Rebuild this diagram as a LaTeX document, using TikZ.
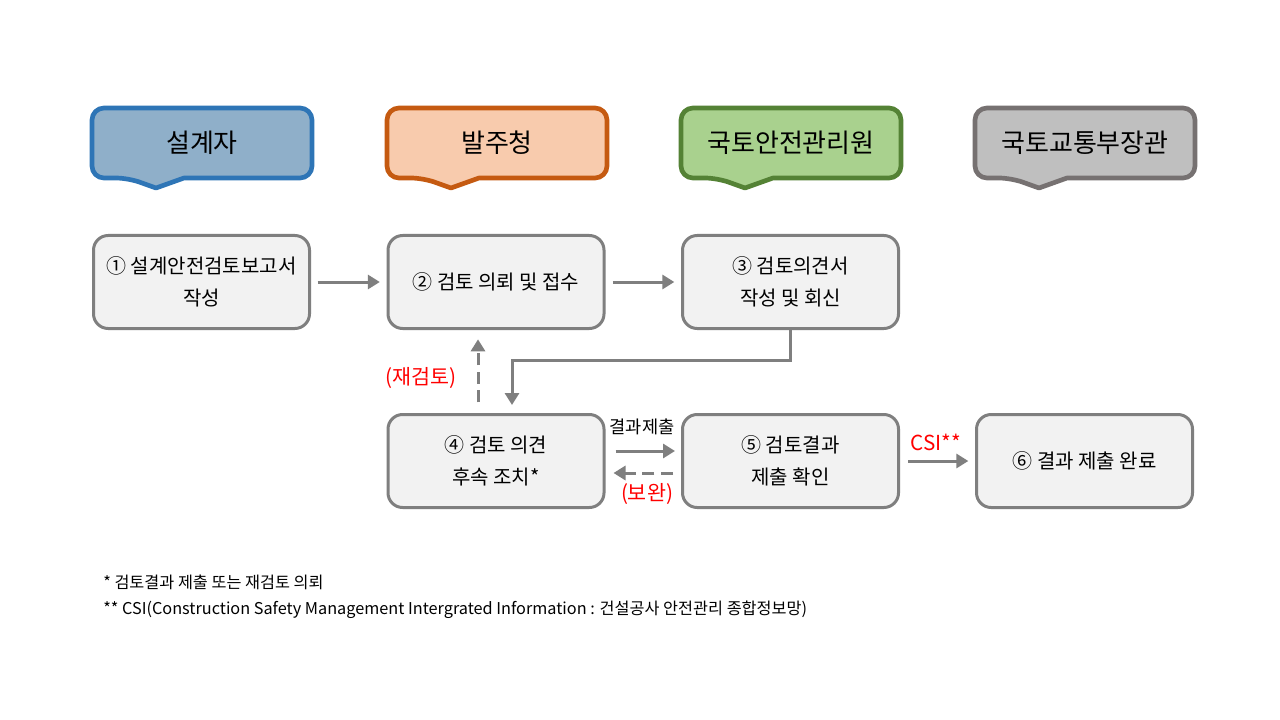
\documentclass[tikz,border=0pt]{standalone}
\usepackage{fontspec}
\setmainfont{Noto Sans CJK KR}
\usetikzlibrary{arrows.meta,calc}
\definecolor{bordgray}{HTML}{7F7F7F}
\definecolor{boxfill}{HTML}{F2F2F2}
\definecolor{blueB}{HTML}{2E75B6}
\definecolor{blueF}{HTML}{8FAFC9}
\definecolor{orgB}{HTML}{C55A11}
\definecolor{orgF}{HTML}{F8CBAD}
\definecolor{grnB}{HTML}{548235}
\definecolor{grnF}{HTML}{A9D18E}
\definecolor{gryB}{HTML}{767171}
\definecolor{gryF}{HTML}{BFBFBF}
\definecolor{redT}{HTML}{FF0000}
\newcommand\hdrshape[3]{%
  \draw[draw=#2,fill=#3,line width=3.5pt,line join=round]
    (#1+36,178) -- (#1+64,188) -- (#1+92,178) [rounded corners=9pt]
    -- (#1+220,178) -- (#1+220,108) -- (#1,108) -- (#1,178) -- cycle;}
\begin{document}
\begin{tikzpicture}[x=0.75pt,y=-0.75pt,
  hdrtext/.style={font=\fontsize{19.5}{22}\selectfont,text=black},
  pbox/.style={draw=bordgray,fill=boxfill,line width=2.25pt,rounded corners=11pt,
    minimum width=162pt,minimum height=69.75pt,inner sep=0pt,align=center,
    font=\fontsize{15}{24}\selectfont},
  arr/.style={draw=bordgray,line width=2.25pt,-{Triangle[length=9pt,width=10.5pt]}},
  darr/.style={arr,dash pattern=on 9pt off 5pt},
  redlab/.style={text=redT,font=\fontsize{15.5}{18}\selectfont},
  smalllab/.style={font=\fontsize{13.2}{15}\selectfont},
  foot/.style={anchor=west,font=\fontsize{12.2}{14}\selectfont,inner sep=0pt}]
\useasboundingbox (0,0) rectangle (1280,720);
\fill[white] (0,0) rectangle (1280,720);
% headers
\hdrshape{92}{blueB}{blueF}
\hdrshape{387}{orgB}{orgF}
\hdrshape{681}{grnB}{grnF}
\hdrshape{975}{gryB}{gryF}
\node[hdrtext] (h1) at (202,143) {설계자};
\node[hdrtext] (h2) at (497,143) {발주청};
\node[hdrtext] (h3) at (791,143) {국토안전관리원};
\node[hdrtext] (h4) at (1085,143) {국토교통부장관};
% process boxes
\node[pbox] (b1) at (201.5,282) {① 설계안전검토보고서\\작성};
\node[pbox] (b2) at (496,282) {② 검토 의뢰 및 접수};
\node[pbox] (b3) at (790.5,282) {③ 검토의견서\\작성 및 회신};
\node[pbox] (b4) at (496,461) {④ 검토 의견\\후속 조치*};
\node[pbox] (b5) at (790.5,461) {⑤ 검토결과\\제출 확인};
\node[pbox] (b6) at (1084.5,461) {⑥ 결과 제출 완료};
% connectors
\draw[arr,shorten <=5pt,shorten >=5pt] (b1.east) -- (b2.west);
\draw[arr,shorten <=5.5pt,shorten >=5pt] (b2.east) -- (b3.west);
\coordinate (k) at (512,360);
\draw[arr,shorten >=6pt] (b3.south) |- (k) -- (k |- b4.north);
\coordinate (r) at (478,0);
\draw[darr,shorten <=8pt,shorten >=7pt] (b4.north -| r) -- (b2.south -| r);
\node[redlab] (l1) at (421,378) {(재검토)};
\coordinate (ya) at (0,451);
\coordinate (yb) at (0,473);
\draw[arr,shorten <=7.5pt,shorten >=4.5pt] (b4.east |- ya) -- (b5.west |- ya);
\node[smalllab] (l2) at (642,427) {결과제출};
\draw[darr,shorten <=6pt,shorten >=6pt] (b5.west |- yb) -- (b4.east |- yb);
\node[redlab] (l3) at (647,494) {(보완)};
\draw[arr,shorten <=6pt,shorten >=5pt] (b5.east) -- (b6.west);
\node[redlab] (l4) at (936,442) {CSI**};
% footnotes
\node[foot] (f1) at (103,582) {* 검토결과 제출 또는 재검토 의뢰};
\node[foot] (f2) at (103,610) {** CSI(Construction Safety Management Intergrated Information : 건설공사 안전관리 종합정보망)};
\end{tikzpicture}
\end{document}
